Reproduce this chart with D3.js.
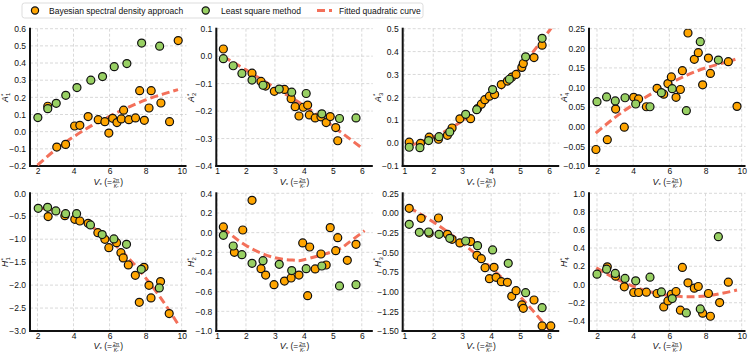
<!DOCTYPE html>
<html>
<head>
<meta charset="utf-8">
<script src="https://cdn.jsdelivr.net/npm/d3@7"></script>
<style>
  body { margin: 0; background: #fff; }
  svg { display: block; font-family: "Liberation Sans", Arial, sans-serif; }
</style>
</head>
<body>
<svg id="chart" width="748" height="355"></svg>
<script>
// ---- data ----
const xTicksWide = [2, 4, 6, 8, 10];
const xTicksNarrow = [1, 2, 3, 4, 5, 6];

const a1Ticks = [-0.2, -0.1, 0, 0.1, 0.2, 0.3, 0.4, 0.5, 0.6];
const a2Ticks = [-0.4, -0.3, -0.2, -0.1, 0, 0.1];
const a3Ticks = [-0.1, 0, 0.1, 0.2, 0.3, 0.4, 0.5];
const a4Ticks = [-0.1, -0.05, 0, 0.05, 0.1, 0.15, 0.2, 0.25];
const h1Ticks = [-3, -2.5, -2, -1.5, -1, -0.5, 0];
const h2Ticks = [-1, -0.8, -0.6, -0.4, -0.2, 0, 0.2, 0.4];
const h3Ticks = [-1.5, -1.25, -1, -0.75, -0.5, -0.25, 0, 0.25];
const h4Ticks = [-0.4, -0.2, 0, 0.2, 0.4, 0.6, 0.8, 1.0];

const a1Bayes = [[2.57,0.148],[3.07,-0.09],[3.56,-0.074],[4.06,0.033],[4.35,0.037],[4.81,0.088],[5.37,0.07],[5.74,0.058],[5.96,-0.008],[6.17,0.078],[6.41,0.053],[6.65,0.074],[6.78,0.125],[7.07,0.07],[7.44,0.08],[7.67,0.239],[7.93,0.066],[8.19,0.138],[8.31,0.239],[8.85,0.167],[9.33,0.058],[9.81,0.531]];
const a1Lsq = [[2.02,0.082],[2.57,0.134],[3.04,0.165],[3.57,0.212],[4.19,0.257],[4.96,0.30],[5.61,0.321],[6.26,0.379],[6.96,0.397],[7.78,0.516],[8.78,0.498]];
const a1Fit = [[2.0,-0.195],[3,-0.105],[4,-0.03],[5,0.035],[6,0.09],[7,0.14],[8,0.185],[9,0.22],[9.8,0.245]];

const a2Bayes = [[1.22,0.026],[2.21,-0.062],[2.52,-0.092],[2.68,-0.109],[2.98,-0.128],[3.33,-0.121],[3.56,-0.155],[3.70,-0.184],[3.83,-0.218],[3.98,-0.186],[4.13,-0.178],[4.19,-0.214],[4.39,-0.225],[4.59,-0.221],[4.77,-0.242],[4.91,-0.220],[5.10,-0.260],[5.17,-0.308]];
const a2Lsq = [[1.22,-0.009],[1.56,-0.035],[1.86,-0.063],[2.21,-0.087],[2.59,-0.106],[3.15,-0.120],[3.58,-0.131],[4.08,-0.136],[4.62,-0.210],[5.23,-0.227],[5.80,-0.225]];
const a2Fit = [[1.22,-0.002],[2,-0.05],[3,-0.115],[4,-0.18],[5,-0.255],[6.05,-0.338]];

const a3Bayes = [[1.17,0.004],[1.56,-0.001],[1.86,0.026],[2.18,0.017],[2.49,0.034],[2.65,0.066],[2.92,0.106],[3.29,0.107],[3.53,0.151],[3.66,0.170],[3.78,0.19],[3.94,0.205],[4.12,0.212],[4.35,0.256],[4.56,0.271],[4.71,0.288],[4.86,0.30],[5.06,0.331],[5.11,0.348],[5.48,0.374],[5.76,0.428]];
const a3Lsq = [[1.17,-0.018],[1.54,-0.02],[1.84,0.011],[2.20,0.028],[2.57,0.049],[3.12,0.126],[3.50,0.146],[4.05,0.234],[4.63,0.279],[5.19,0.377],[5.76,0.458]];
const a3Fit = [[1.2,-0.01],[2,0.026],[3,0.097],[4,0.198],[5,0.329],[6,0.49],[6.12,0.515]];

const a4Bayes = [[1.94,-0.058],[2.57,-0.033],[3.03,0.045],[3.51,-0.001],[4.03,0.075],[4.30,0.071],[4.73,0.051],[5.32,0.098],[5.69,0.083],[5.92,0.110],[6.11,0.127],[6.37,0.075],[6.61,0.095],[6.72,0.143],[7.03,0.239],[7.38,0.172],[7.60,0.189],[7.84,0.107],[8.16,0.175],[8.27,0.136],[9.26,0.166],[9.74,0.052]];
const a4Lsq = [[2.0,0.064],[2.53,0.076],[3.01,0.066],[3.55,0.074],[4.14,0.058],[4.93,0.051],[5.56,0.087],[6.16,0.097],[6.94,0.041],[7.71,0.217],[8.71,0.170]];
const a4Fit = [[1.93,-0.016],[3,0.024],[4,0.056],[5,0.084],[6,0.11],[7,0.132],[8,0.15],[9,0.163],[9.65,0.172]];

const h1Bayes = [[2.59,-0.508],[3.52,-0.487],[4.07,-0.566],[4.35,-0.603],[4.81,-0.654],[5.35,-0.857],[5.74,-1.002],[5.96,-1.184],[6.39,-1.075],[6.63,-1.293],[6.76,-1.409],[7.04,-1.561],[7.43,-1.787],[7.65,-2.375],[7.91,-1.612],[8.19,-2.004],[8.30,-2.28],[8.83,-1.924],[9.31,-2.62]];
const h1Lsq = [[2.04,-0.327],[2.56,-0.305],[3.02,-0.385],[3.56,-0.443],[4.17,-0.443],[4.94,-0.69],[5.59,-0.90],[6.24,-0.995],[6.94,-1.111],[7.76,-1.656],[8.76,-2.062]];
const h1Fit = [[2,-0.32],[3,-0.377],[4,-0.513],[5,-0.727],[6,-1.02],[7,-1.392],[8,-1.842],[9,-2.37],[9.8,-2.85]];

const h2Bayes = [[1.22,0.058],[1.60,-0.2],[1.89,0.027],[2.21,0.329],[2.52,-0.366],[2.68,-0.431],[2.97,-0.529],[3.33,-0.492],[3.56,-0.461],[3.83,-0.431],[3.96,-0.105],[4.13,-0.641],[4.20,-0.146],[4.39,-0.369],[4.59,-0.217],[4.77,-0.329],[4.91,0.051],[5.10,-0.183],[5.17,-0.051],[5.50,-0.281],[5.80,-0.119]];
const h2Lsq = [[1.22,-0.027],[1.56,-0.136],[1.86,-0.224],[2.21,-0.312],[2.59,-0.285],[3.15,-0.322],[3.58,-0.386],[4.08,-0.366],[4.62,-0.339],[5.23,-0.542],[5.80,-0.529]];
const h2Fit = [[1.22,0.045],[2,-0.13],[3,-0.255],[3.7,-0.28],[4,-0.275],[5,-0.192],[5.5,-0.112],[6.1,0.02]];

const h3Bayes = [[1.17,0.059],[1.58,-0.068],[1.86,-0.258],[2.18,-0.064],[2.49,-0.271],[2.65,-0.335],[2.92,-0.381],[3.29,-0.364],[3.51,-0.538],[3.66,-0.581],[3.79,-0.695],[3.94,-0.835],[4.10,-0.691],[4.17,-0.818],[4.35,-0.873],[4.56,-0.881],[4.71,-1.059],[4.86,-0.987],[5.06,-1.169],[5.11,-1.212],[5.48,-1.106],[5.76,-1.436],[6.06,-1.436]];
const h3Lsq = [[1.17,-0.144],[1.52,-0.246],[1.84,-0.242],[2.20,-0.271],[2.57,-0.322],[3.12,-0.356],[3.53,-0.415],[4.05,-0.47],[4.59,-0.64],[5.19,-1.013],[5.76,-1.203]];
const h3Fit = [[1.17,0.068],[2,-0.115],[3,-0.381],[4,-0.697],[5,-1.062],[6,-1.48]];

const h4Bayes = [[2.57,0.194],[3.03,0.091],[3.51,-0.026],[4.03,-0.088],[4.30,-0.088],[4.73,-0.084],[5.32,-0.099],[5.69,-0.246],[5.92,-0.18],[6.11,-0.107],[6.37,-0.077],[6.61,-0.282],[6.72,0.187],[7.03,0.018],[7.38,-0.04],[7.60,-0.022],[7.84,-0.315],[8.16,-0.099],[8.27,-0.348],[8.78,-0.198],[9.26,0.025]];
const h4Lsq = [[2.0,0.113],[2.53,0.168],[3.01,0.121],[3.55,0.066],[4.14,0.04],[4.93,0.08],[5.56,-0.081],[6.16,-0.154],[6.94,-0.312],[7.71,-0.268],[8.71,0.524]];
const h4Fit = [[1.96,0.183],[3,0.068],[4,-0.02],[5,-0.082],[6,-0.12],[7,-0.135],[8,-0.126],[9,-0.094],[9.74,-0.06]];

const legendLabels = ["Bayesian spectral density approach", "Least square method", "Fitted quadratic curve"];

// panel table
const panels = [
  { sym: "A", sub: "1", bayes: a1Bayes, lsq: a1Lsq, fit: a1Fit, xDomain: [1.584, 10.27], yDomain: [-0.2, 0.6], xTicks: xTicksWide, yTicks: a1Ticks, fmt: ".1f" },
  { sym: "A", sub: "2", bayes: a2Bayes, lsq: a2Lsq, fit: a2Fit, xDomain: [0.976, 6.38], yDomain: [-0.4, 0.1], xTicks: xTicksNarrow, yTicks: a2Ticks, fmt: ".1f" },
  { sym: "A", sub: "3", bayes: a3Bayes, lsq: a3Lsq, fit: a3Fit, xDomain: [0.945, 6.35], yDomain: [-0.1, 0.5], xTicks: xTicksNarrow, yTicks: a3Ticks, fmt: ".1f" },
  { sym: "A", sub: "4", bayes: a4Bayes, lsq: a4Lsq, fit: a4Fit, xDomain: [1.558, 10.21], yDomain: [-0.1, 0.25], xTicks: xTicksWide, yTicks: a4Ticks, fmt: ".2f" },
  { sym: "H", sub: "1", bayes: h1Bayes, lsq: h1Lsq, fit: h1Fit, xDomain: [1.584, 10.27], yDomain: [-3, 0], xTicks: xTicksWide, yTicks: h1Ticks, fmt: ".1f" },
  { sym: "H", sub: "2", bayes: h2Bayes, lsq: h2Lsq, fit: h2Fit, xDomain: [0.976, 6.38], yDomain: [-1, 0.4], xTicks: xTicksNarrow, yTicks: h2Ticks, fmt: ".1f" },
  { sym: "H", sub: "3", bayes: h3Bayes, lsq: h3Lsq, fit: h3Fit, xDomain: [0.945, 6.35], yDomain: [-1.5, 0.25], xTicks: xTicksNarrow, yTicks: h3Ticks, fmt: ".2f" },
  { sym: "H", sub: "4", bayes: h4Bayes, lsq: h4Lsq, fit: h4Fit, xDomain: [1.558, 10.21], yDomain: [-0.51, 1.0], xTicks: xTicksWide, yTicks: h4Ticks, fmt: ".1f" }
];

// ---- layout / style ----
const orange = "#ffa500";
const green = "#98d063";
const fitColor = "#f3705a";
const lefts = [30, 216.3, 402.7, 589];
const plotW = 156.5;
const rows = [
  { top: 28.7, bottom: 166, labelY: 185 },
  { top: 193.3, bottom: 331, labelY: 349 }
];

const svg = d3.select("svg#chart");

// V* (= 2π / K*) as one text element, fraction built from tspans
function xLabel(g, cx, cy) {
  const lab = g.append("g");
  const t = lab.append("text").attr("fill", "#111");
  const add = (txt, size, dy, italic) => t.append("tspan").attr("font-size", size).attr("dy", dy)
    .attr("font-style", italic ? "italic" : null).text(txt);
  add("V", 9, 0, true);
  add("*", 6, 2.3);
  add(" (=", 8.5, -2.3);
  const num = add("2π", 5, -3.3);
  const den = add("K", 5, 6.2, true);
  const st = add("*", 3.8, 0.8);
  const close = add(")", 8.5, -3.7);
  const nw = num.node().getComputedTextLength();
  const dw = den.node().getComputedTextLength() + st.node().getComputedTextLength();
  const fw = Math.max(nw, dw) + 1;
  num.attr("dx", 0.5 + (fw - nw) / 2);
  den.attr("dx", (fw - dw) / 2 - (fw - nw) / 2 - nw);
  close.attr("dx", fw + 0.5 - (fw - dw) / 2 - dw);
  const node = t.node();
  const fs = node.getEndPositionOfChar(4).x + 0.5;
  lab.append("line").attr("x1", fs).attr("x2", fs + fw).attr("y1", -2.4).attr("y2", -2.4)
    .attr("stroke", "#111").attr("stroke-width", 0.5);
  const total = node.getEndPositionOfChar(9).x;
  lab.attr("transform", `translate(${cx - total / 2},${cy})`);
}

function yLabel(g, cx, cy, sym, sub) {
  const t = g.append("text").attr("transform", `translate(${cx},${cy}) rotate(-90)`)
    .attr("fill", "#111").attr("text-anchor", "middle");
  t.append("tspan").attr("font-size", 8.5).attr("font-style", "italic").text(sym);
  const s = t.append("tspan").attr("font-size", 6).attr("dy", 2).attr("dx", 0.3).text(sub);
  const w = s.node().getComputedTextLength();
  t.append("tspan").attr("font-size", 6).attr("dy", -5.4).attr("dx", -w).text("*");
}

panels.forEach((p, i) => {
  const col = i % 4;
  const row = rows[Math.floor(i / 4)];
  const left = lefts[col];
  const right = left + plotW;

  const x = d3.scaleLinear().domain(p.xDomain).range([left, right]);
  const y = d3.scaleLinear().domain(p.yDomain).range([row.bottom, row.top]);

  const g = svg.append("g");

  // clip
  svg.append("clipPath").attr("id", "clip" + i)
    .append("rect").attr("x", left).attr("y", row.top)
    .attr("width", plotW).attr("height", row.bottom - row.top);

  // grid
  const grid = g.append("g").attr("stroke", "#cfcfcf").attr("stroke-width", 0.8)
    .attr("stroke-dasharray", "3,2");
  grid.selectAll("line.gx").data(p.xTicks).join("line").attr("class", "gx")
    .attr("x1", d => x(d)).attr("x2", d => x(d))
    .attr("y1", row.top).attr("y2", row.bottom);
  grid.selectAll("line.gy").data(p.yTicks).join("line").attr("class", "gy")
    .attr("x1", left).attr("x2", right)
    .attr("y1", d => y(d)).attr("y2", d => y(d));

  // axes
  const yAxis = g.append("g").attr("transform", `translate(${left},0)`)
    .call(d3.axisLeft(y).tickValues(p.yTicks).tickSize(0).tickPadding(4).tickFormat(d3.format(p.fmt)));
  const xAxis = g.append("g").attr("transform", `translate(0,${row.bottom})`)
    .call(d3.axisBottom(x).tickValues(p.xTicks).tickSize(0).tickPadding(1.5).tickFormat(d3.format("d")));
  [yAxis, xAxis].forEach(a => {
    a.select(".domain").remove();
    a.selectAll("text").attr("font-size", 8.5).attr("fill", "#111")
      .attr("font-family", "'Liberation Sans', Arial, sans-serif");
  });

  // spines
  g.append("line").attr("x1", left).attr("x2", left).attr("y1", row.top - 1).attr("y2", row.bottom + 1)
    .attr("stroke", "#111").attr("stroke-width", 2);
  g.append("line").attr("x1", left - 1).attr("x2", right).attr("y1", row.bottom).attr("y2", row.bottom)
    .attr("stroke", "#111").attr("stroke-width", 2);

  const plot = g.append("g").attr("clip-path", `url(#clip${i})`);

  // fitted curve
  const line = d3.line().x(d => x(d[0])).y(d => y(d[1])).curve(d3.curveNatural);
  plot.append("path").datum(p.fit).attr("d", line)
    .attr("fill", "none").attr("stroke", fitColor).attr("stroke-width", 3)
    .attr("stroke-dasharray", "8,4");

  // scatter
  plot.append("g").selectAll("circle").data(p.bayes).join("circle")
    .attr("cx", d => x(d[0])).attr("cy", d => y(d[1])).attr("r", 4)
    .attr("fill", orange).attr("stroke", "#111").attr("stroke-width", 1.2);
  plot.append("g").selectAll("circle").data(p.lsq).join("circle")
    .attr("cx", d => x(d[0])).attr("cy", d => y(d[1])).attr("r", 4)
    .attr("fill", green).attr("stroke", "#111").attr("stroke-width", 1.2);

  // labels
  xLabel(g, (left + right) / 2, row.labelY);
  yLabel(g, left - 22, (row.top + row.bottom) / 2, p.sym, p.sub);
});

// legend
const leg = svg.append("g");
leg.append("rect").attr("x", 22).attr("y", 3).attr("width", 401).attr("height", 15).attr("rx", 2.5)
  .attr("fill", "#fff").attr("stroke", "#d4d4d4").attr("stroke-width", 0.8);
const legItems = [
  { label: legendLabels[0], type: "dot", color: orange, mx: 35, tx: 49 },
  { label: legendLabels[1], type: "dot", color: green, mx: 205.7, tx: 221 },
  { label: legendLabels[2], type: "line", color: fitColor, mx: 317, tx: 339 }
];
legItems.forEach(it => {
  if (it.type === "dot") {
    leg.append("circle").attr("cx", it.mx).attr("cy", 10.5).attr("r", 3.6)
      .attr("fill", it.color).attr("stroke", "#111").attr("stroke-width", 1.2);
  } else {
    leg.append("line").attr("x1", it.mx).attr("x2", it.mx + 15).attr("y1", 10.5).attr("y2", 10.5)
      .attr("stroke", it.color).attr("stroke-width", 3).attr("stroke-dasharray", "8,4");
  }
  leg.append("text").attr("x", it.tx).attr("y", 13.6).attr("font-size", 8.5).attr("fill", "#111").text(it.label);
});
</script>
</body>
</html>
